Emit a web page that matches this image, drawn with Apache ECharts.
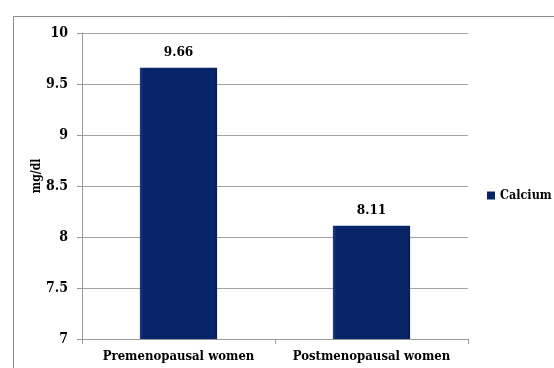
<!DOCTYPE html>
<html><head><meta charset="utf-8">
<script src="https://cdn.jsdelivr.net/npm/echarts@6/dist/echarts.min.js"></script>
<style>html,body{margin:0;padding:0;background:#fff}#c{width:554px;height:368px}</style>
</head><body><div id="c"></div>
<script>
const categories = ['Premenopausal women', 'Postmenopausal women'];
const calcium = [9.66, 8.11];
const seriesName = 'Calcium';
const yAxisTitle = 'mg/dl';
const yMin = 7, yMax = 10, yStep = 0.5;

const font = '"DejaVu Serif Condensed", "DejaVu Serif", serif';
const chart = echarts.init(document.getElementById('c'), null, {renderer: 'canvas'});
chart.setOption({
  animation: false,
  graphic: [
    {type: 'rect', shape: {x: 13.5, y: 16.5, width: 560, height: 400}, style: {fill: 'none', stroke: '#8c8c8c', lineWidth: 1}, silent: true},
    {type: 'text', x: 37, y: 176, rotation: Math.PI / 2,
     style: {text: yAxisTitle, fontFamily: font, fontWeight: 'bold', fontSize: 12, fill: '#000', align: 'center', verticalAlign: 'middle'}}
  ],
  grid: {left: 82, right: 86, top: 33, bottom: 29},
  legend: {
    orient: 'vertical', left: 487, top: 189, padding: 0, itemWidth: 8, itemHeight: 8, itemGap: 4,
    icon: 'rect',
    textStyle: {fontFamily: font, fontWeight: 'bold', fontSize: 12.5, color: '#000'},
    data: [seriesName]
  },
  xAxis: {
    type: 'category', data: categories,
    axisLine: {lineStyle: {color: '#999'}},
    axisTick: {show: true, length: 5, lineStyle: {color: '#999'}},
    axisLabel: {interval: 0, fontFamily: font, fontWeight: 'bold', fontSize: 13, color: '#000', margin: 11}
  },
  yAxis: {
    type: 'value', min: yMin, max: yMax, interval: yStep,
    axisLine: {show: true, lineStyle: {color: '#999'}},
    axisTick: {show: true, length: 5, lineStyle: {color: '#999'}},
    splitLine: {lineStyle: {color: '#a3a3a3'}},
    axisLabel: {fontFamily: font, fontWeight: 'bold', fontSize: 14, color: '#000', margin: 14}
  },
  series: [{
    name: seriesName, type: 'bar', data: calcium, barWidth: '40%',
    itemStyle: {
      color: new echarts.graphic.LinearGradient(0, 0, 1, 0, [
        {offset: 0, color: '#1d3a86'}, {offset: 0.05, color: '#072468'},
        {offset: 0.95, color: '#072468'}, {offset: 1, color: '#0b1d4e'}
      ])
    },
    label: {show: true, position: 'top', distance: 8, fontFamily: font, fontWeight: 'bold', fontSize: 13.5, color: '#000'}
  }]
});
</script></body></html>
